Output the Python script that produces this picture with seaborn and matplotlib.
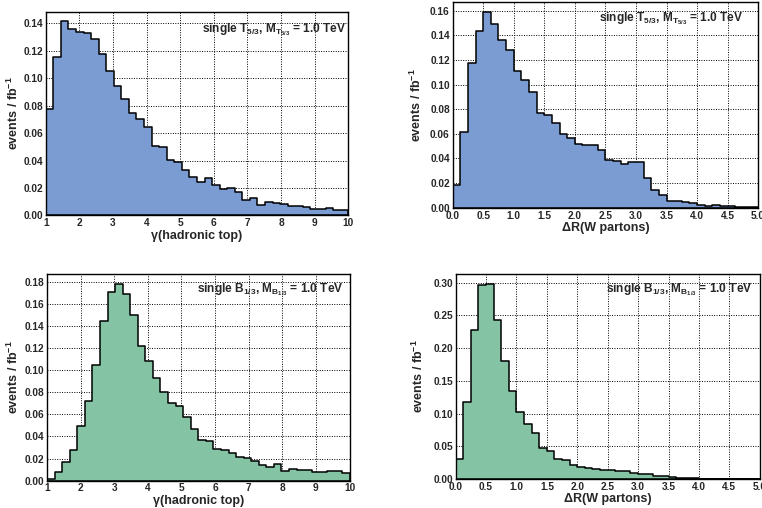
import numpy as np
import pandas as pd
import seaborn as sb
import matplotlib.pyplot as plt
from matplotlib.ticker import MultipleLocator, AutoMinorLocator, FormatStrFormatter

# events / fb^-1 per bin, 40 bins each
gamma_t53 = [0.0777, 0.1153, 0.1414, 0.1359, 0.1339, 0.1330, 0.1286, 0.1175, 0.1051, 0.0942,
             0.0850, 0.0744, 0.0700, 0.0644, 0.0506, 0.0496, 0.0407, 0.0392, 0.0334, 0.0279,
             0.0247, 0.0276, 0.0225, 0.0189, 0.0201, 0.0167, 0.0111, 0.0128, 0.0075, 0.0099,
             0.0087, 0.0085, 0.0068, 0.0065, 0.0058, 0.0044, 0.0046, 0.0056, 0.0041, 0.0036]
dr_t53 = [0.0183, 0.0613, 0.1174, 0.1438, 0.1590, 0.1492, 0.1365, 0.1284, 0.1112, 0.1039,
          0.0939, 0.0769, 0.0750, 0.0690, 0.0602, 0.0564, 0.0518, 0.0510, 0.0507, 0.0470,
          0.0386, 0.0378, 0.0353, 0.0372, 0.0375, 0.0243, 0.0143, 0.0100, 0.0059, 0.0054,
          0.0043, 0.0035, 0.0019, 0.0016, 0.0019, 0.0016, 0.0011, 0.0008, 0.0005, 0.0003]
gamma_b13 = [0.0012, 0.0082, 0.0170, 0.0278, 0.0493, 0.0717, 0.1044, 0.1449, 0.1709, 0.1785,
             0.1691, 0.1497, 0.1219, 0.1083, 0.0926, 0.0805, 0.0699, 0.0675, 0.0578, 0.0466,
             0.0372, 0.0357, 0.0290, 0.0281, 0.0254, 0.0212, 0.0206, 0.0178, 0.0139, 0.0121,
             0.0148, 0.0088, 0.0106, 0.0100, 0.0094, 0.0076, 0.0082, 0.0085, 0.0088, 0.0070]
dr_b13 = [0.0305, 0.1174, 0.2273, 0.2964, 0.2984, 0.2435, 0.1805, 0.1337, 0.1017, 0.0834,
          0.0702, 0.0473, 0.0427, 0.0310, 0.0285, 0.0214, 0.0188, 0.0173, 0.0147, 0.0137,
          0.0137, 0.0117, 0.0122, 0.0092, 0.0081, 0.0071, 0.0051, 0.0041, 0.0025, 0.0020,
          0.0010, 0.0010, 0.0008, 0.0006, 0.0005, 0.0004, 0.0003, 0.0003, 0.0002, 0.0001]

gamma_range = (1, 10)
dr_range = (0, 5)

label_t53 = r"single T$_{5/3}$, M$_{T_{5/3}}$ = 1.0 TeV"
label_b13 = r"single B$_{1/3}$, M$_{B_{1/3}}$ = 1.0 TeV"

blue = '#7b9bd3'
green = '#84c4a4'

sb.set_style("white")
plt.rcParams['font.family'] = ['Liberation Sans', 'DejaVu Sans']
plt.rcParams['mathtext.fontset'] = 'custom'
plt.rcParams['mathtext.rm'] = 'Liberation Sans:bold'
plt.rcParams['mathtext.it'] = 'Liberation Sans:bold'
plt.rcParams['mathtext.bf'] = 'Liberation Sans:bold'


def draw_hist(ax, values, xrange, color, xlabel, label, ystep, xstep, xfmt, text_pos, ylab_x):
    edges = np.linspace(xrange[0], xrange[1], len(values) + 1)
    centers = 0.5 * (edges[1:] + edges[:-1])
    df = pd.DataFrame({'x': centers, 'w': values})
    sb.histplot(data=df, x='x', weights='w', bins=list(edges), element='step', fill=True,
                color=color, alpha=1, edgecolor='black', linewidth=1.1, ax=ax)
    ax.set_xlim(*xrange)
    ax.set_ylim(0, max(values) * 1.05)
    ax.set_axisbelow(True)
    ax.grid(True, color='black', linestyle=(0, (1, 1.5)), linewidth=0.7)
    ax.xaxis.set_major_locator(MultipleLocator(xstep))
    ax.xaxis.set_minor_locator(AutoMinorLocator(5))
    ax.yaxis.set_major_locator(MultipleLocator(ystep))
    ax.yaxis.set_minor_locator(AutoMinorLocator(5))
    ax.xaxis.set_major_formatter(FormatStrFormatter(xfmt))
    ax.yaxis.set_major_formatter(FormatStrFormatter('%.2f'))
    ax.tick_params(which='both', direction='in', top=False, right=False, labelsize=7.3, pad=2)
    ax.tick_params(which='major', length=5, width=0.8)
    ax.tick_params(which='minor', length=2.8, width=0.8)
    for t in ax.get_xticklabels() + ax.get_yticklabels():
        t.set_fontweight('bold')
    for s in ax.spines.values():
        s.set_color('black')
        s.set_linewidth(1.0)
    ax.set_xlabel(xlabel, fontsize=9, fontweight='bold', labelpad=1)
    ax.set_ylabel(r"events / fb$^{-1}$", fontsize=9, fontweight='bold')
    ax.yaxis.set_label_coords(ylab_x, 0.5)
    ax.text(text_pos[0], text_pos[1], label, transform=ax.transAxes, ha='right', va='baseline',
            fontsize=8.6, fontweight='bold')


fig = plt.figure(figsize=(7.62, 5.08), dpi=100)
ax1 = fig.add_axes([0.060, 0.576, 0.397, 0.401])
ax2 = fig.add_axes([0.594, 0.591, 0.401, 0.405])
ax3 = fig.add_axes([0.0617, 0.054, 0.397, 0.407])
ax4 = fig.add_axes([0.598, 0.057, 0.399, 0.404])

draw_hist(ax1, gamma_t53, gamma_range, blue, u"\u03b3(hadronic top)", label_t53, 0.02, 1, '%d', (0.992, 0.90), -0.081)
draw_hist(ax2, dr_t53, dr_range, blue, u"\u0394R(W partons)", label_t53, 0.02, 0.5, '%.1f', (0.95, 0.908), -0.095)
draw_hist(ax3, gamma_b13, gamma_range, green, u"\u03b3(hadronic top)", label_b13, 0.02, 1, '%d', (0.98, 0.908), -0.086)
draw_hist(ax4, dr_b13, dr_range, green, u"\u0394R(W partons)", label_b13, 0.05, 0.5, '%.1f', (0.977, 0.907), -0.098)

fig.savefig('out.png', dpi=100)
